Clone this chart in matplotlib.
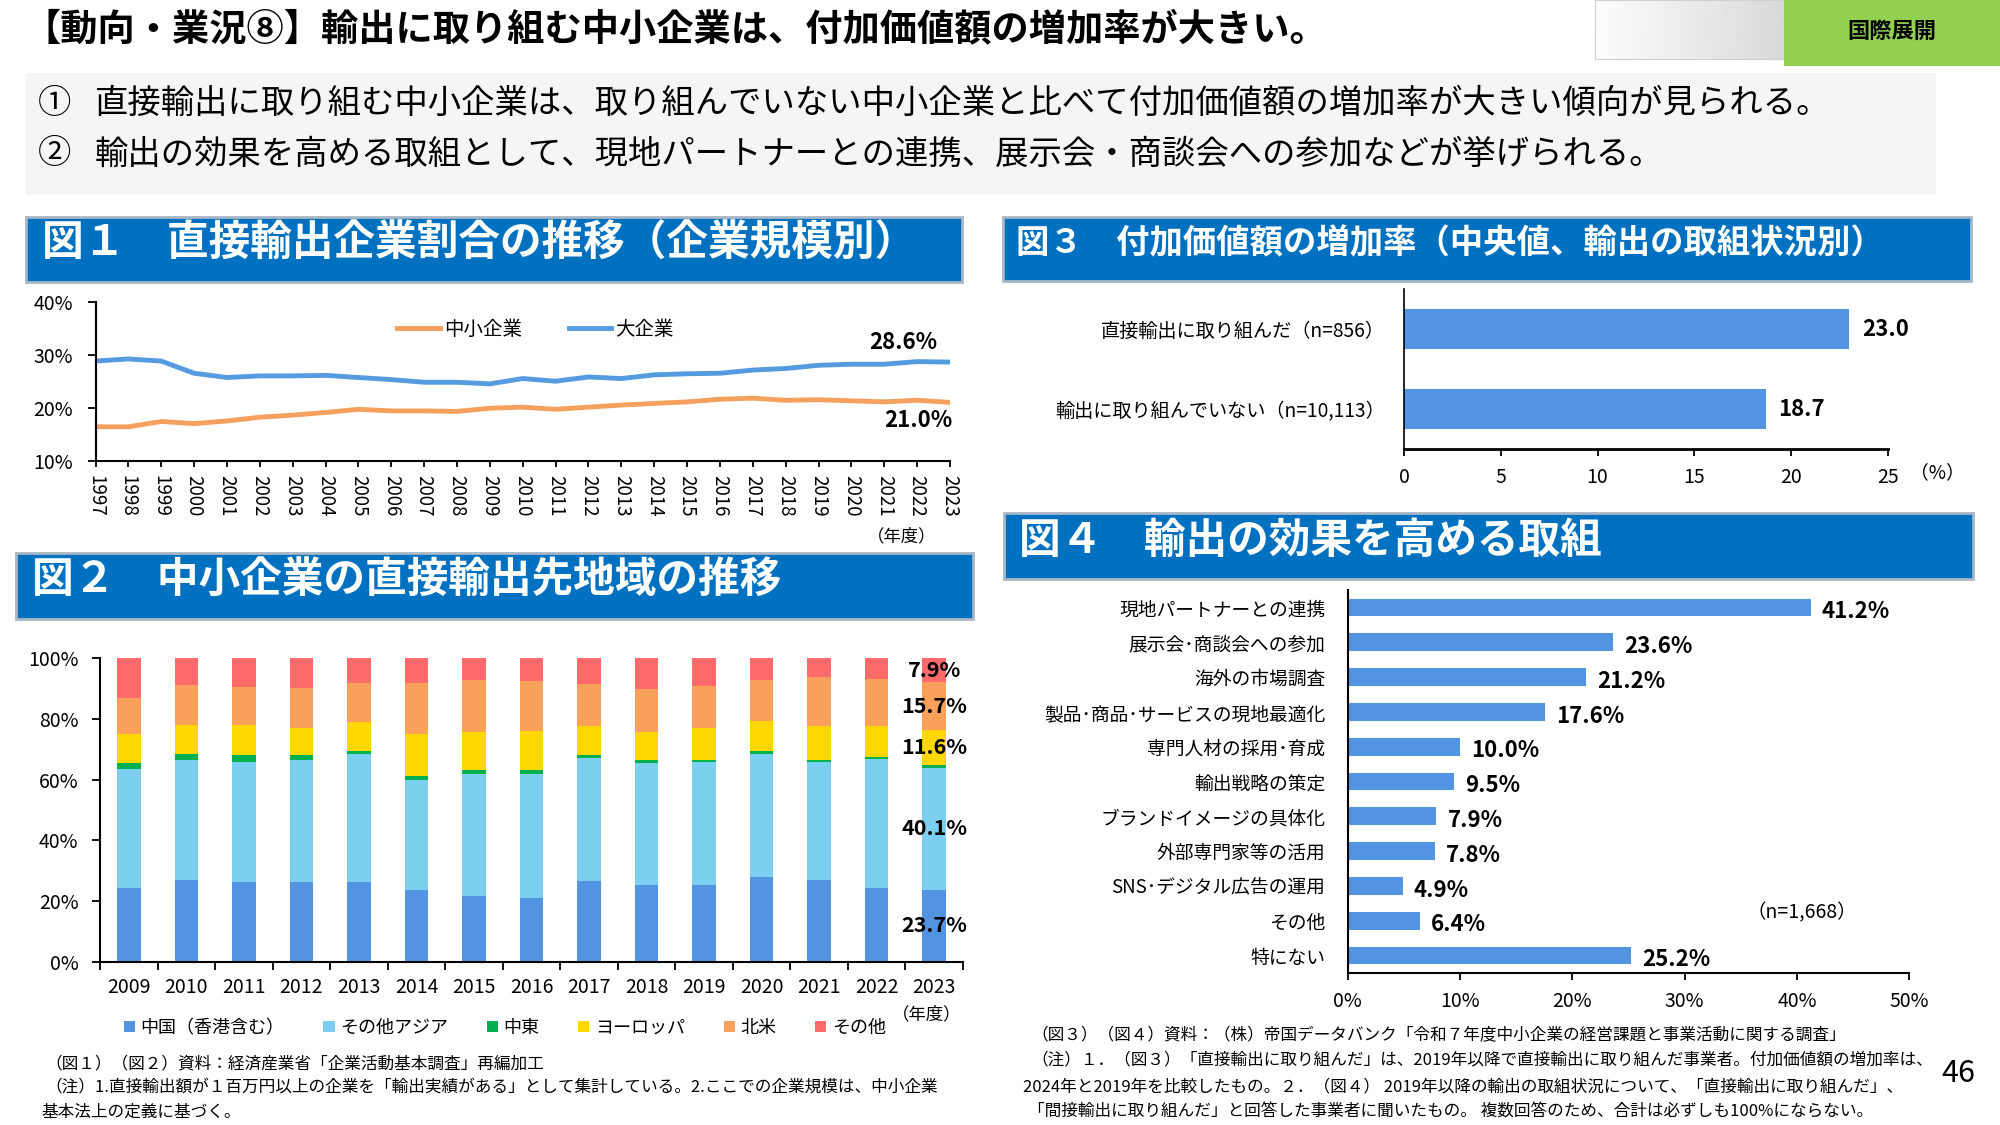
import numpy as np
import matplotlib.pyplot as plt
from matplotlib.patches import Rectangle
from matplotlib.transforms import Affine2D

plt.rcParams['font.family'] = ['Noto Sans CJK JP', 'DejaVu Sans']

# ---- data ----
# 図1 直接輸出企業割合（%）
years1 = list(range(1997, 2024))
sme_share = [16.4, 16.4, 17.4, 17.0, 17.5, 18.2, 18.6, 19.1, 19.7, 19.4, 19.4, 19.3, 19.9, 20.1,
             19.7, 20.1, 20.5, 20.8, 21.1, 21.6, 21.8, 21.4, 21.5, 21.3, 21.1, 21.4, 21.0]
large_share = [28.8, 29.2, 28.8, 26.5, 25.7, 26.0, 26.0, 26.1, 25.7, 25.3, 24.8, 24.8, 24.5, 25.5,
               25.0, 25.8, 25.5, 26.2, 26.4, 26.5, 27.1, 27.4, 28.0, 28.2, 28.2, 28.7, 28.6]

# 図2 直接輸出先地域（%）
years2 = [str(y) for y in range(2009, 2024)]
regions = ['中国（香港含む）', 'その他アジア', '中東', 'ヨーロッパ', '北米', 'その他']
china = [24.4, 27.0, 26.3, 26.3, 26.3, 23.6, 21.6, 21.1, 26.6, 25.3, 25.3, 28.0, 27.0, 24.4, 23.7]
other_asia = [39.1, 39.5, 39.5, 40.2, 42.1, 36.3, 40.3, 40.8, 40.7, 40.2, 40.5, 40.5, 38.8, 42.4, 40.1]
middle_east = [2.1, 2.1, 2.3, 1.6, 1.1, 1.3, 1.2, 1.3, 0.8, 1.0, 0.7, 1.0, 0.7, 0.8, 1.0]
europe = [9.3, 9.3, 9.8, 8.9, 9.5, 13.7, 12.6, 12.8, 9.6, 9.2, 10.4, 9.8, 11.2, 10.1, 11.6]
north_america = [12.0, 13.3, 12.6, 13.2, 12.9, 16.9, 17.2, 16.5, 13.8, 14.2, 14.0, 13.6, 16.1, 15.5, 15.7]
other_region = [13.1, 8.8, 9.5, 9.8, 8.1, 8.2, 7.1, 7.5, 8.5, 10.1, 9.1, 7.1, 6.2, 6.8, 7.9]

# 図3 付加価値額の増加率（中央値、%）
status_labels = ['直接輸出に取り組んだ（n=856）', '輸出に取り組んでいない（n=10,113）']
growth_rate = [23.0, 18.7]

# 図4 輸出の効果を高める取組（%）
measures = ['現地パートナーとの連携', '展示会･商談会への参加', '海外の市場調査',
            '製品･商品･サービスの現地最適化', '専門人材の採用･育成', '輸出戦略の策定',
            'ブランドイメージの具体化', '外部専門家等の活用', 'SNS･デジタル広告の運用',
            'その他', '特にない']
measure_share = [41.2, 23.6, 21.2, 17.6, 10.0, 9.5, 7.9, 7.8, 4.9, 6.4, 25.2]

# ---- figure ----
W, H = 2000, 1125
fig = plt.figure(figsize=(20, 11.25), dpi=100)
px = Affine2D().scale(1 / W, -1 / H).translate(0, 1) + fig.transFigure


def box(x0, y0, x1, y1):
    return [x0 / W, 1 - y1 / H, (x1 - x0) / W, (y1 - y0) / H]


def header(x0, y0, x1, y1, text, size, tx):
    fig.add_artist(Rectangle((x0, y0), x1 - x0, y1 - y0, transform=px,
                             facecolor='#0070C0', edgecolor='#A9B6C4', lw=2))
    fig.text(tx, (y0 + y1) / 2 - 5, text, transform=px, color='white',
             fontsize=size, fontweight='bold', va='center', ha='left')


# タイトル・右上ラベル
fig.text(23, 30, '【動向・業況⑧】輸出に取り組む中小企業は、付加価値額の増加率が大きい。',
         transform=px, fontsize=26.8, fontweight='bold', va='center')
axg = fig.add_axes(box(1595, 0, 1784, 59))
axg.imshow(np.linspace(0.99, 0.85, 256)[None, :], cmap='gray', vmin=0, vmax=1, aspect='auto')
axg.set_xticks([])
axg.set_yticks([])
for s in axg.spines.values():
    s.set_color('#D0D0D0')
fig.add_artist(Rectangle((1784, 0), 216, 65.7, transform=px, facecolor='#92D050', edgecolor='none'))
fig.text(1892, 31.7, '国際展開', transform=px, fontsize=16, fontweight='bold', ha='center', va='center')

# 要約ボックス
fig.add_artist(Rectangle((25.5, 72.7), 1910.5, 122.3, transform=px, facecolor='#F4F6F6', edgecolor='none'))
fig.text(38, 103, '①', transform=px, fontsize=24, va='center')
fig.text(95, 103, '直接輸出に取り組む中小企業は、取り組んでいない中小企業と比べて付加価値額の増加率が大きい傾向が見られる。',
         transform=px, fontsize=24, va='center')
fig.text(38, 154, '②', transform=px, fontsize=24, va='center')
fig.text(95, 154, '輸出の効果を高める取組として、現地パートナーとの連携、展示会・商談会への参加などが挙げられる。',
         transform=px, fontsize=24, va='center')

# ---- 図1 ----
header(25.5, 216.7, 962, 281.7, '図１　直接輸出企業割合の推移（企業規模別）', 30, 41.5)
ax1 = fig.add_axes(box(95.5, 301.7, 950, 460.7))
ax1.plot(years1, sme_share, color='#F5A05C', lw=3.5, label='中小企業')
ax1.plot(years1, large_share, color='#559BE0', lw=3.5, label='大企業')
ax1.set_xlim(1997, 2023)
ax1.set_ylim(10, 40)
ax1.set_yticks([10, 20, 30, 40])
ax1.set_yticklabels([f'{v}%' for v in [10, 20, 30, 40]])
ax1.set_xticks(years1)
ax1.set_xticklabels([str(y) for y in years1], rotation=-90)
ax1.tick_params(axis='x', length=4.5, width=1.3, pad=6, labelsize=13.5)
ax1.tick_params(axis='y', length=6, width=1.3, pad=10, labelsize=14)
for s in ['top', 'right']:
    ax1.spines[s].set_visible(False)
for s in ['left', 'bottom']:
    ax1.spines[s].set_linewidth(1.5)
ax1.legend(loc='center', bbox_to_anchor=(535.5 / W, 1 - 329 / H), bbox_transform=fig.transFigure,
           ncol=2, frameon=False, fontsize=14, handlelength=2.2, handletextpad=0.2,
           columnspacing=2.4, borderpad=0)
ax1.annotate(f'{large_share[-1]:.1f}%', xy=(years1[-1], large_share[-1]), xytext=(-34, 14),
             textcoords='offset points', ha='center', va='center', fontsize=16, fontweight='bold')
ax1.annotate(f'{sme_share[-1]:.1f}%', xy=(years1[-1], sme_share[-1]), xytext=(-23, -13),
             textcoords='offset points', ha='center', va='center', fontsize=16, fontweight='bold')
fig.text(902, 536, '（年度）', transform=px, fontsize=12.5, ha='center', va='center')

# ---- 図2 ----
header(16, 553, 972.6, 619, '図２　中小企業の直接輸出先地域の推移', 30, 32)
ax2 = fig.add_axes(box(100, 658.3, 963, 961.7))
series2 = [china, other_asia, middle_east, europe, north_america, other_region]
colors2 = ['#5294E2', '#7DCFF0', '#00B050', '#FFD700', '#F9A05A', '#FF6B6B']
x2 = np.arange(len(years2))
bottom = np.zeros(len(years2))
for name, vals, c in zip(regions, series2, colors2):
    vals = np.array(vals)
    ax2.bar(x2, vals, bottom=bottom, width=0.41, color=c, label=name)
    if name != '中東':
        ax2.text(x2[-1], bottom[-1] + vals[-1] / 2, f'{vals[-1]:.1f}%', ha='center', va='center',
                 fontsize=15.5, fontweight='bold')
    bottom += vals
ax2.set_xlim(-0.5, len(years2) - 0.5)
ax2.set_ylim(0, 100)
ax2.set_yticks(range(0, 101, 20))
ax2.set_yticklabels([f'{v}%' for v in range(0, 101, 20)])
ax2.set_xticks(x2)
ax2.set_xticklabels(years2)
ax2.set_xticks(np.arange(-0.5, len(years2), 1), minor=True)
ax2.tick_params(axis='x', which='major', length=0, pad=11, labelsize=14)
ax2.tick_params(axis='x', which='minor', length=5.5, width=1.3)
ax2.tick_params(axis='y', length=5.5, width=1.3, pad=10, labelsize=14)
for s in ['top', 'right']:
    ax2.spines[s].set_visible(False)
for s in ['left', 'bottom']:
    ax2.spines[s].set_linewidth(1.5)
ax2.legend(loc='center left', bbox_to_anchor=(124 / W, 1 - 1028 / H), bbox_transform=fig.transFigure,
           ncol=6, frameon=False, fontsize=13, handlelength=0.62, handleheight=0.62,
           handletextpad=0.3, columnspacing=2.15, borderpad=0, borderaxespad=0)
fig.text(927, 1014, '（年度）', transform=px, fontsize=12.5, ha='center', va='center')

# ---- 図3 ----
header(1003, 216.7, 1971, 281, '図３　付加価値額の増加率（中央値、輸出の取組状況別）', 24, 1016)
ax3 = fig.add_axes(box(1404, 289, 1888, 449))
bars3 = ax3.barh(range(len(status_labels)), growth_rate, height=0.5, color='#5294E2')
ax3.bar_label(bars3, labels=[f'{v:.1f}' for v in growth_rate], padding=9, fontsize=16, fontweight='bold')
ax3.set_ylim(len(status_labels) - 0.5, -0.5)
ax3.set_xlim(0, 25)
ax3.set_xticks(range(0, 26, 5))
ax3.set_yticks(range(len(status_labels)))
ax3.set_yticklabels(status_labels)
ax3.tick_params(axis='y', length=0, pad=14, labelsize=13.8)
ax3.tick_params(axis='x', length=5, width=1.3, pad=8, labelsize=14)
for s in ['top', 'right']:
    ax3.spines[s].set_visible(False)
ax3.spines['left'].set_linewidth(1.2)
ax3.spines['bottom'].set_linewidth(2)
fig.text(1937, 473, '（%）', transform=px, fontsize=13.5, ha='center', va='center')

# ---- 図4 ----
header(1004, 512.7, 1972.6, 579, '図４　輸出の効果を高める取組', 30, 1019)
ax4 = fig.add_axes(box(1347.6, 590, 1909.4, 973))
bars4 = ax4.barh(range(len(measures)), measure_share, height=0.51, color='#5294E2')
labels4 = ax4.bar_label(bars4, labels=[f'{v:.1f}%' for v in measure_share], padding=8,
                        fontsize=16, fontweight='bold')
for t in labels4:
    t.xyann = (8, -3)  # 数値ラベルを少し下げる
ax4.set_ylim(len(measures) - 0.5, -0.5)
ax4.set_xlim(0, 50)
ax4.set_xticks(range(0, 51, 10))
ax4.set_xticklabels([f'{v}%' for v in range(0, 51, 10)])
ax4.set_yticks(range(len(measures)))
ax4.set_yticklabels(measures)
ax4.tick_params(axis='y', length=0, pad=16, labelsize=13.5)
ax4.tick_params(axis='x', length=5, width=1.3, pad=8, labelsize=14)
for s in ['top', 'right']:
    ax4.spines[s].set_visible(False)
ax4.spines['left'].set_linewidth(1.5)
ax4.spines['bottom'].set_linewidth(1.5)
fig.text(1802, 913, '（n=1,668）', transform=px, fontsize=14, ha='center', va='center')

# ---- 注記 ----
fn = 12
fig.text(45, 1064, '（図１）（図２）資料：経済産業省「企業活動基本調査」再編加工', transform=px, fontsize=fn, va='center')
fig.text(45, 1088, '（注）1.直接輸出額が１百万円以上の企業を「輸出実績がある」として集計している。2.ここでの企業規模は、中小企業',
         transform=px, fontsize=fn, va='center')
fig.text(41, 1112, '基本法上の定義に基づく。', transform=px, fontsize=fn, va='center')
fig.text(1031, 1036, '（図３）（図４）資料：（株）帝国データバンク「令和７年度中小企業の経営課題と事業活動に関する調査」',
         transform=px, fontsize=fn, va='center')
fig.text(1031, 1060, '（注）１．（図３）「直接輸出に取り組んだ」は、2019年以降で直接輸出に取り組んだ事業者。付加価値額の増加率は、',
         transform=px, fontsize=fn, va='center')
fig.text(1023, 1087, '2024年と2019年を比較したもの。２．（図４） 2019年以降の輸出の取組状況について、「直接輸出に取り組んだ」、',
         transform=px, fontsize=fn, va='center')
fig.text(1028, 1112, '「間接輸出に取り組んだ」と回答した事業者に聞いたもの。 複数回答のため、合計は必ずしも100%にならない。',
         transform=px, fontsize=fn, va='center')
fig.text(1958, 1074, '46', transform=px, fontsize=22, ha='center', va='center')

fig.savefig('out.png', dpi=100, facecolor='white')
